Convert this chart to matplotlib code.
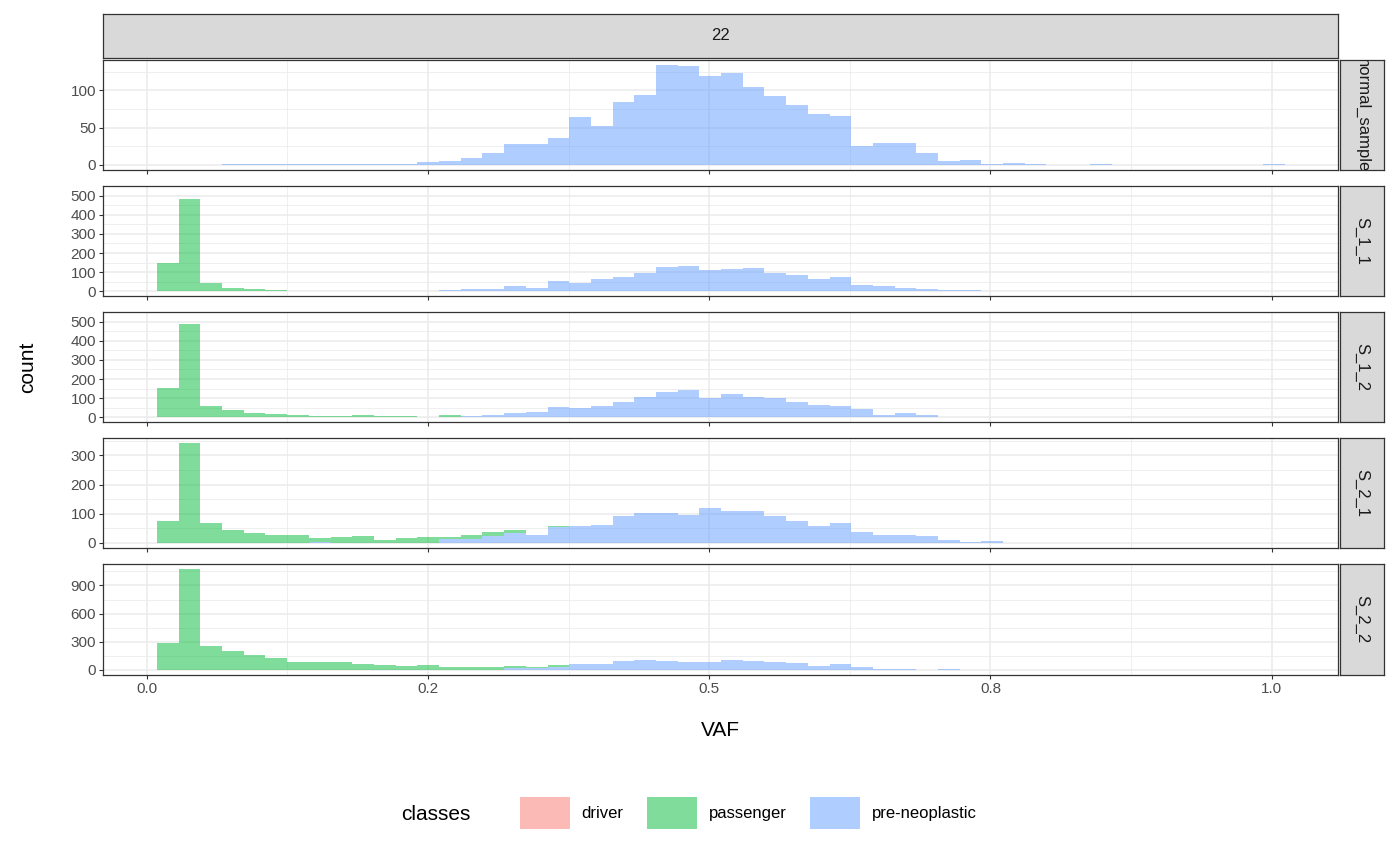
import numpy as np
import matplotlib
matplotlib.use("Agg")
import matplotlib.pyplot as plt
from matplotlib.patches import Patch

plt.rcParams['font.family'] = ['Liberation Sans', 'DejaVu Sans']

NB = 52
edges = np.linspace(0.009, 1.012, NB + 1)
samples = ["normal_sample", "S_1_1", "S_1_2", "S_2_1", "S_2_2"]
passenger = {
    "normal_sample": [],
    "S_1_1": [148, 480, 44, 20, 11, 3, 4, 4, 1, 0, 1, 2],
    "S_1_2": [151, 485, 60, 37, 22, 15, 13, 8, 8, 13, 8, 8, 0, 13],
    "S_2_1": [74, 342, 67, 46, 33, 26, 26, 13, 19, 23, 9, 16, 19, 7, 15, 13, 10, 2, 2],
    "S_2_2": [282, 1075, 260, 207, 154, 132, 89, 89, 89, 68, 57, 46, 57, 36, 36, 36, 21, 11, 21, 8, 8],
}
preneo = {
    "normal_sample": [0, 0, 0, 2, 2, 1, 2, 1, 2, 1, 1, 2, 4, 5, 10, 16, 28, 28, 36, 64, 52, 84, 94, 134, 132,
                      119, 123, 104, 93, 80, 69, 65, 25, 29, 29, 16, 6, 7, 1, 3, 1, 0, 0, 1,
                      0, 0, 0, 0, 0, 0, 0, 1],
    "S_1_1": [0, 0, 0, 0, 0, 3, 0, 0, 1, 1, 0, 0, 2, 5, 12, 10, 30, 18, 54, 44, 63, 73, 98, 125, 134,
              110, 115, 120, 96, 87, 63, 77, 35, 30, 16, 11, 6, 6, 0, 2],
    "S_1_2": [0, 0, 0, 0, 0, 3, 0, 0, 0, 0, 0, 0, 3, 0, 8, 13, 22, 27, 56, 51, 60, 80, 108, 132, 142,
              99, 123, 108, 99, 80, 65, 60, 46, 13, 22, 13, 3, 3, 3, 3],
    "S_2_1": [0, 0, 0, 0, 0, 0, 0, 3, 0, 0, 0, 0, 0, 12, 14, 23, 33, 26, 55, 57, 63, 94, 101, 104, 97,
              118, 111, 108, 91, 74, 57, 70, 36, 26, 26, 23, 9, 2, 6],
    "S_2_2": [0] * 16 + [25, 25, 36, 60, 60, 100, 111, 100, 89, 89, 111, 100, 89, 79, 46, 68, 36, 14, 14, 0, 5],
}
yticks = {
    "normal_sample": [0, 50, 100],
    "S_1_1": [0, 100, 200, 300, 400, 500],
    "S_1_2": [0, 100, 200, 300, 400, 500],
    "S_2_1": [0, 100, 200, 300],
    "S_2_2": [0, 300, 600, 900],
}
xticks = [0.0, 0.25, 0.5, 0.75, 1.0]
xticklabels = ["0.0", "0.2", "0.5", "0.8", "1.0"]

def pad(v):
    return np.array(list(v) + [0] * (NB - len(v)), dtype=float)

GREEN = "#00BA38"
BLUE = "#619CFF"
W, H = 1400, 865
fig = plt.figure(figsize=(14, 8.65), dpi=100)

def fa(x0, y0, x1, y1):
    return fig.add_axes([x0 / W, 1 - y1 / H, (x1 - x0) / W, (y1 - y0) / H])

panels = [(60, 170), (186, 296), (312, 422), (438, 548), (564, 675)]
L, R = 103, 1338
left = edges[:-1]
widths = np.diff(edges)
for k, (s, (y0, y1)) in enumerate(zip(samples, panels)):
    ax = fa(L, y0, R, y1)
    b = pad(preneo[s]); g = pad(passenger[s])
    ax.bar(left, b, width=widths, align="edge", color=BLUE, alpha=0.5, lw=0)
    ax.bar(left, g, width=widths, bottom=b, align="edge", color=GREEN, alpha=0.5, lw=0)
    ax.set_xlim(-0.039, 1.059)
    tot = (b + g).max()
    ax.set_ylim(-0.05 * tot, tot * 1.05)
    yt = yticks[s]
    ax.set_yticks(yt)
    ax.set_yticklabels([str(v) for v in yt], fontsize=11, color="#4D4D4D")
    step = yt[1] - yt[0]
    ax.set_yticks([v + step / 2 for v in yt], minor=True)
    ax.set_xticks(xticks)
    ax.set_xticks([0.125, 0.375, 0.625, 0.875], minor=True)
    ax.grid(True, which="major", color="#EBEBEB", lw=1.1, zorder=0)
    ax.grid(True, which="minor", color="#EBEBEB", lw=0.55, zorder=0)
    ax.set_axisbelow(True)
    ax.tick_params(which="minor", length=0)
    ax.tick_params(which="major", length=3, color="#333333", pad=2)
    if k == 4:
        ax.set_xticklabels(xticklabels, fontsize=11, color="#4D4D4D")
    else:
        ax.set_xticklabels([])
    for sp in ax.spines.values():
        sp.set_color("#333333"); sp.set_linewidth(0.9)
    # right strip
    st = fa(R + 2, y0, 1384, y1)
    st.set_facecolor("#D9D9D9")
    st.set_xticks([]); st.set_yticks([])
    for sp in st.spines.values():
        sp.set_color("#333333"); sp.set_linewidth(0.9)
    t = st.text(0.5, 0.5, s, rotation=-90, ha="center", va="center", fontsize=12,
                color="#1A1A1A", transform=st.transAxes, clip_on=True)

top = fa(L, 14, R, 58)
top.set_facecolor("#D9D9D9")
top.set_xticks([]); top.set_yticks([])
for sp in top.spines.values():
    sp.set_color("#333333"); sp.set_linewidth(0.9)
top.text(0.5, 0.5, "22", ha="center", va="center", fontsize=12, color="#1A1A1A", transform=top.transAxes)

fig.text(720 / W, 1 - 731 / H, "VAF", ha="center", va="center", fontsize=15)
fig.text(28 / W, 1 - 367 / H, "count", ha="center", va="center", fontsize=15, rotation=90)

fig.text(401 / W, 1 - 814 / H, "classes", ha="left", va="center", fontsize=15)
handles = [Patch(facecolor="#F8766D", alpha=0.5, lw=0),
           Patch(facecolor=GREEN, alpha=0.5, lw=0),
           Patch(facecolor=BLUE, alpha=0.5, lw=0)]
fig.legend(handles, ["driver", "passenger", "pre-neoplastic"], ncol=3, loc="center left",
           bbox_to_anchor=(505 / W, 1 - 813 / H), frameon=False, fontsize=12,
           handlelength=3.0, handleheight=2.6, columnspacing=1.4, handletextpad=0.7)

fig.savefig("out.png", dpi=100, facecolor="white")
